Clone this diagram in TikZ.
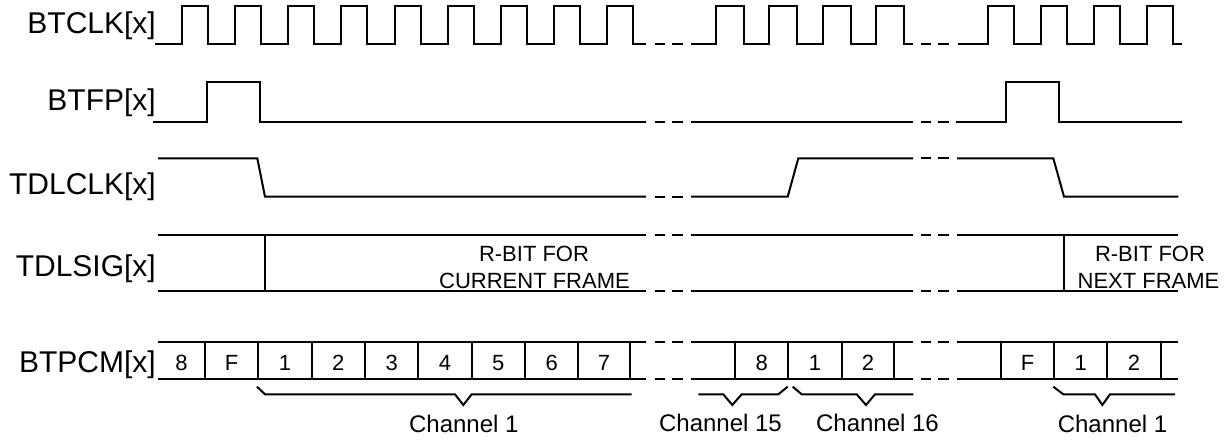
\documentclass[tikz,border=0pt]{standalone}
\usepackage{fontspec}
\setmainfont{Liberation Sans}
\newcommand\gapdash[1]{\draw[wave] (655,#1)--(665,#1) (672,#1)--(683,#1);}
\newcommand\gapdashb[1]{\draw[wave] (921,#1)--(931,#1) (938,#1)--(949,#1);}
\begin{document}
\begin{tikzpicture}[x=1pt,y=-1pt,
  wave/.style={draw=black, line width=2pt, line join=miter},
  lbl/.style={anchor=base east, inner sep=0pt, font=\fontsize{30}{36}\selectfont},
  cell/.style={anchor=base, inner sep=0pt, font=\fontsize{22}{26}\selectfont},
  note/.style={anchor=base, inner sep=0pt, font=\fontsize{22}{26}\selectfont},
  chan/.style={anchor=base, inner sep=0pt, font=\fontsize{24}{28}\selectfont}]
\useasboundingbox (0,0) rectangle (1228,440);
% labels
\node[lbl] (lclk) at (156,33) {BTCLK[x]};
\node[lbl] (lfp) at (156,110) {BTFP[x]};
\node[lbl] (ltclk) at (156,194) {TDLCLK[x]};
\node[lbl] (ltsig) at (156,276) {TDLSIG[x]};
\node[lbl] (lpcm) at (156,372) {BTPCM[x]};
% BTCLK
\draw[wave] (155,44)
  foreach \k in {0,...,8} { -- ({181.7+53.2*\k},44) -- ({181.7+53.2*\k},6) -- ({207.7+53.2*\k},6) -- ({207.7+53.2*\k},44) }
  -- (646,44);
\gapdash{44}
\draw[wave] (691,44)
  foreach \k in {0,...,3} { -- ({716+53.3*\k},44) -- ({716+53.3*\k},6) -- ({744+53.3*\k},6) -- ({744+53.3*\k},44) }
  -- (913,44);
\gapdashb{44}
\draw[wave] (958,44)
  foreach \k in {0,...,3} { -- ({988.3+53*\k},44) -- ({988.3+53*\k},6) -- ({1014.3+53*\k},6) -- ({1014.3+53*\k},44) }
  -- (1181.7,44);
% BTFP
\draw[wave] (153,122) -- (207,122) -- (207,82) -- (260,82) -- (260,122) -- (646,122);
\gapdash{122}
\draw[wave] (691,122) -- (913,122);
\gapdashb{122}
\draw[wave] (956,122) -- (1006,122) -- (1006,82) -- (1059.3,82) -- (1059.3,122) -- (1181.7,122);
% TDLCLK
\draw[wave] (158,158.3) -- (257.3,158.3) -- (265,196.7) -- (646,196.7);
\gapdash{196.7}
\draw[wave] (691,196.7) -- (787.7,196.7) -- (798.3,158.3) -- (913,158.3);
\gapdashb{158.3}
\draw[wave] (957,158.3) -- (1053.3,158.3) -- (1064,196.7) -- (1178.3,196.7);
% TDLSIG
\draw[wave] (158,235) -- (646,235) (158,290.7) -- (646,290.7) (265,235) -- (265,290.7);
\gapdash{235} \gapdash{290.7}
\draw[wave] (691,235) -- (913,235) (691,290.7) -- (913,290.7);
\gapdashb{235} \gapdashb{290.7}
\draw[wave] (957,235) -- (1178.3,235) (957,290.7) -- (1178.3,290.7) (1064,235) -- (1064,290.7);
\node[note] (r1a) at (534,261.7) {R-BIT FOR};
\node[note] (r1b) at (534.5,288.3) {CURRENT FRAME};
\node[note] (r2a) at (1150,261.7) {R-BIT FOR};
\node[note] (r2b) at (1148.5,288.3) {NEXT FRAME};
% BTPCM
\draw[wave] (158,341.7) -- (646,341.7) (158,379.3) -- (646,379.3);
\foreach \x in {205,258.3,311.7,365,418.3,471.7,525,578.3,629.7} \draw[wave] (\x,341.7) -- (\x,379.3);
\gapdash{341.7} \gapdash{379.3}
\draw[wave] (691,341.7) -- (913,341.7) (691,379.3) -- (913,379.3);
\foreach \x in {735,788.3,841.7,894.3} \draw[wave] (\x,341.7) -- (\x,379.3);
\gapdashb{341.7} \gapdashb{379.3}
\draw[wave] (957,341.7) -- (1178.3,341.7) (957,379.3) -- (1178.3,379.3);
\foreach \x in {1001,1054,1107.3,1160.7} \draw[wave] (\x,341.7) -- (\x,379.3);
\node[cell] (c1) at (181.5,370) {8};
\node[cell] (c2) at (231.7,370) {F};
\node[cell] (c3) at (285,370) {1};
\node[cell] (c4) at (338.3,370) {2};
\node[cell] (c5) at (391.7,370) {3};
\node[cell] (c6) at (445,370) {4};
\node[cell] (c7) at (498.3,370) {5};
\node[cell] (c8) at (551.7,370) {6};
\node[cell] (c9) at (604,370) {7};
\node[cell] (c10) at (761.7,370) {8};
\node[cell] (c11) at (815,370) {1};
\node[cell] (c12) at (868,370) {2};
\node[cell] (c13) at (1027.5,370) {F};
\node[cell] (c14) at (1080.7,370) {1};
\node[cell] (c15) at (1134,370) {2};
% braces
\draw[wave] (257,386.7) -- (265,394.3) -- (455,394.3) -- (463.3,405) -- (471.7,394.3) -- (631.7,394.3);
\draw[wave] (698.3,394.3) -- (723.3,394.3) -- (732.3,405) -- (741.7,394.3) -- (778.3,394.3) -- (787.7,386.7);
\draw[wave] (792.7,386.7) -- (801.7,394.3) -- (856.7,394.3) -- (866,405) -- (875,394.3) -- (913.3,394.3);
\draw[wave] (1053.3,386.7) -- (1063.3,394.3) -- (1095,394.3) -- (1102.3,405) -- (1110,394.3) -- (1175,394.3);
\node[chan] (ch1) at (463.8,432.7) {Channel 1};
\node[chan] (ch15) at (720.5,431.7) {Channel 15};
\node[chan] (ch16) at (877.5,431.7) {Channel 16};
\node[chan] (ch1b) at (1112.5,432.7) {Channel 1};
\end{tikzpicture}
\end{document}
